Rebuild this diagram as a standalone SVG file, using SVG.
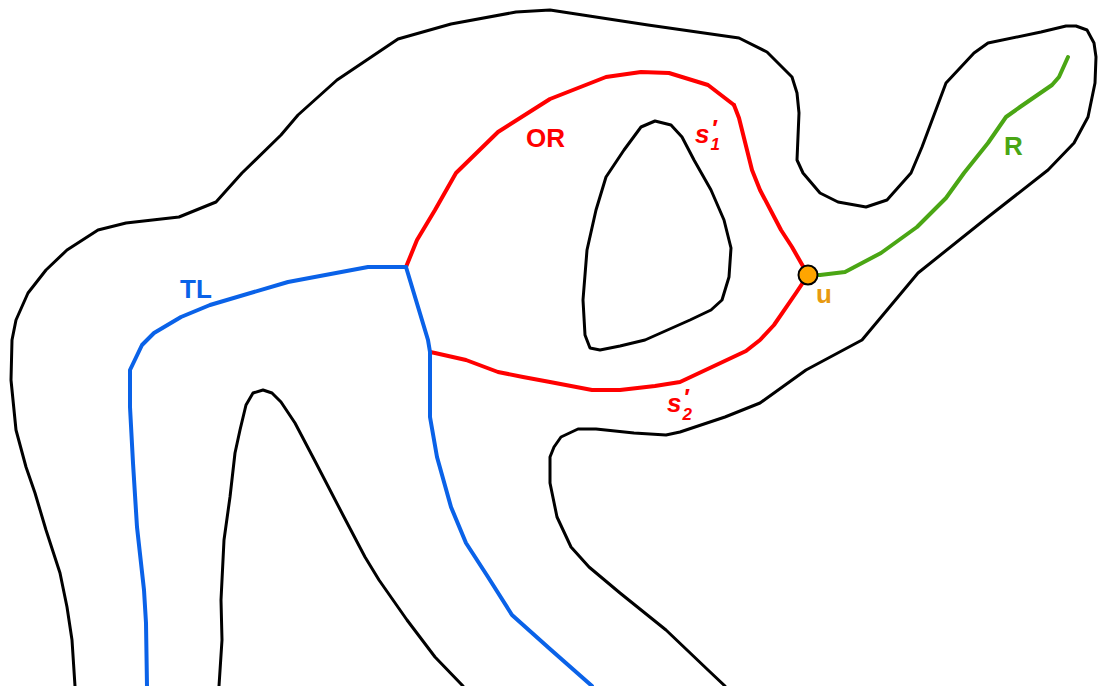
<svg xmlns="http://www.w3.org/2000/svg" width="1100" height="686" viewBox="0 0 1100 686">
<style>
.bd{fill:none;stroke:#000;stroke-width:3;stroke-linejoin:round;stroke-linecap:round}
.p{fill:none;stroke-width:4;stroke-linejoin:round;stroke-linecap:round}
.red{stroke:#ff0000}
.blue{stroke:#0a62e8}
.green{stroke:#4aa614}
.lb{font-family:"Liberation Sans",Arial,sans-serif;font-weight:bold;font-size:26px}
</style>
<rect width="1100" height="686" fill="#fff"/>
<g id="boundaries">
<polyline class="bd" points="75,686 72,640 67,607 60,573 46,530 35,493 26,467 16,430 11,380 12,340 16,320 28,293 46,270 67,250 98,230 126,223 179,217 216,202 242,173 281,135 298,115 337,80 398,39 451,24 516,12 550,10 648,25 739,38 767,52 792,77 797,93 799,113 797,160 803,173 820,193 838,202 866,207 887,200 911,173 922,147 946,83 974,53 988,43 1041,32 1066,26 1076,26 1087,30 1094,43 1096,57 1095,83 1088,117 1074,143 1048,170 988,217 918,273 862,340 806,370 760,403 725,417 680,432 666,435 634,433 596,429 578,429 561,437 554,447 550,457 550,483 557,517 571,547 589,567 620,593 666,630 708,670 725,686"/>
<polyline class="bd" points="219,686 222,640 221,600 224,540 230,497 235,453 240,430 246,405 253,393 263,390 272,393 281,402 295,423 316,463 344,517 365,557 379,580 407,620 435,657 463,686"/>
<polygon class="bd" points="655,121 671,125 682,137 694,160 711,190 724,220 731,248 729,277 722,300 711,310 690,320 645,340 620,346 600,350 590,348 585,335 583,300 587,250 596,210 606,177 624,150 641,127"/>
</g>
<g id="connectors">
<polyline id="OR" class="p red" points="406,267 417,240 435,210 456,173 498,132 550,99 606,77 641,72 669,73 708,85 734,105"/>
<polyline id="s1" class="p red" points="734,105 739,118 752,170 760,190 781,230 792,247 808,275"/>
<polyline id="s2" class="p red" points="808,275 796,293 774,325 760,340 746,351 680,382 655,386 620,390 592,390 550,382 523,377 498,372 466,360 435,353 430,352"/>
<polyline id="TL" class="p blue" points="406,267 368,267 288,282 210,305 181,317 154,333 142,345 130,370 130,407 133,463 137,527 144,590 146,623 147,686"/>
<polyline id="TL2" class="p blue" points="406,267 428,340 430,352 430,417 437,457 451,507 466,543 488,577 512,615 550,649 592,686"/>
<polyline id="R" class="p green" points="808,275 820,275 845,272 881,253 917,227 946,198 964,173 988,143 1006,117 1020,107 1052,85 1059,77 1068,57"/>
</g>
<g id="node-u">
<circle cx="808" cy="275" r="9.5" fill="#ffa500" stroke="#000" stroke-width="2"/>
</g>
<g id="labels">
<text class="lb" x="180" y="298" fill="#0a62e8">TL</text>
<text class="lb" x="526" y="147" fill="#ff0000">OR</text>
<text class="lb" x="1004" y="155" fill="#4aa614">R</text>
<text class="lb" x="816" y="303" fill="#e89a10">u</text>
<text class="lb" x="695" y="143" fill="#ff0000" font-style="italic">s<tspan font-size="17" dx="1" dy="7">1</tspan><tspan font-size="24" dx="-9" dy="-13">′</tspan></text>
<text class="lb" x="667" y="412" fill="#ff0000" font-style="italic">s<tspan font-size="17" dx="1" dy="8">2</tspan><tspan font-size="24" dx="-9" dy="-14">′</tspan></text>
</g>
</svg>
